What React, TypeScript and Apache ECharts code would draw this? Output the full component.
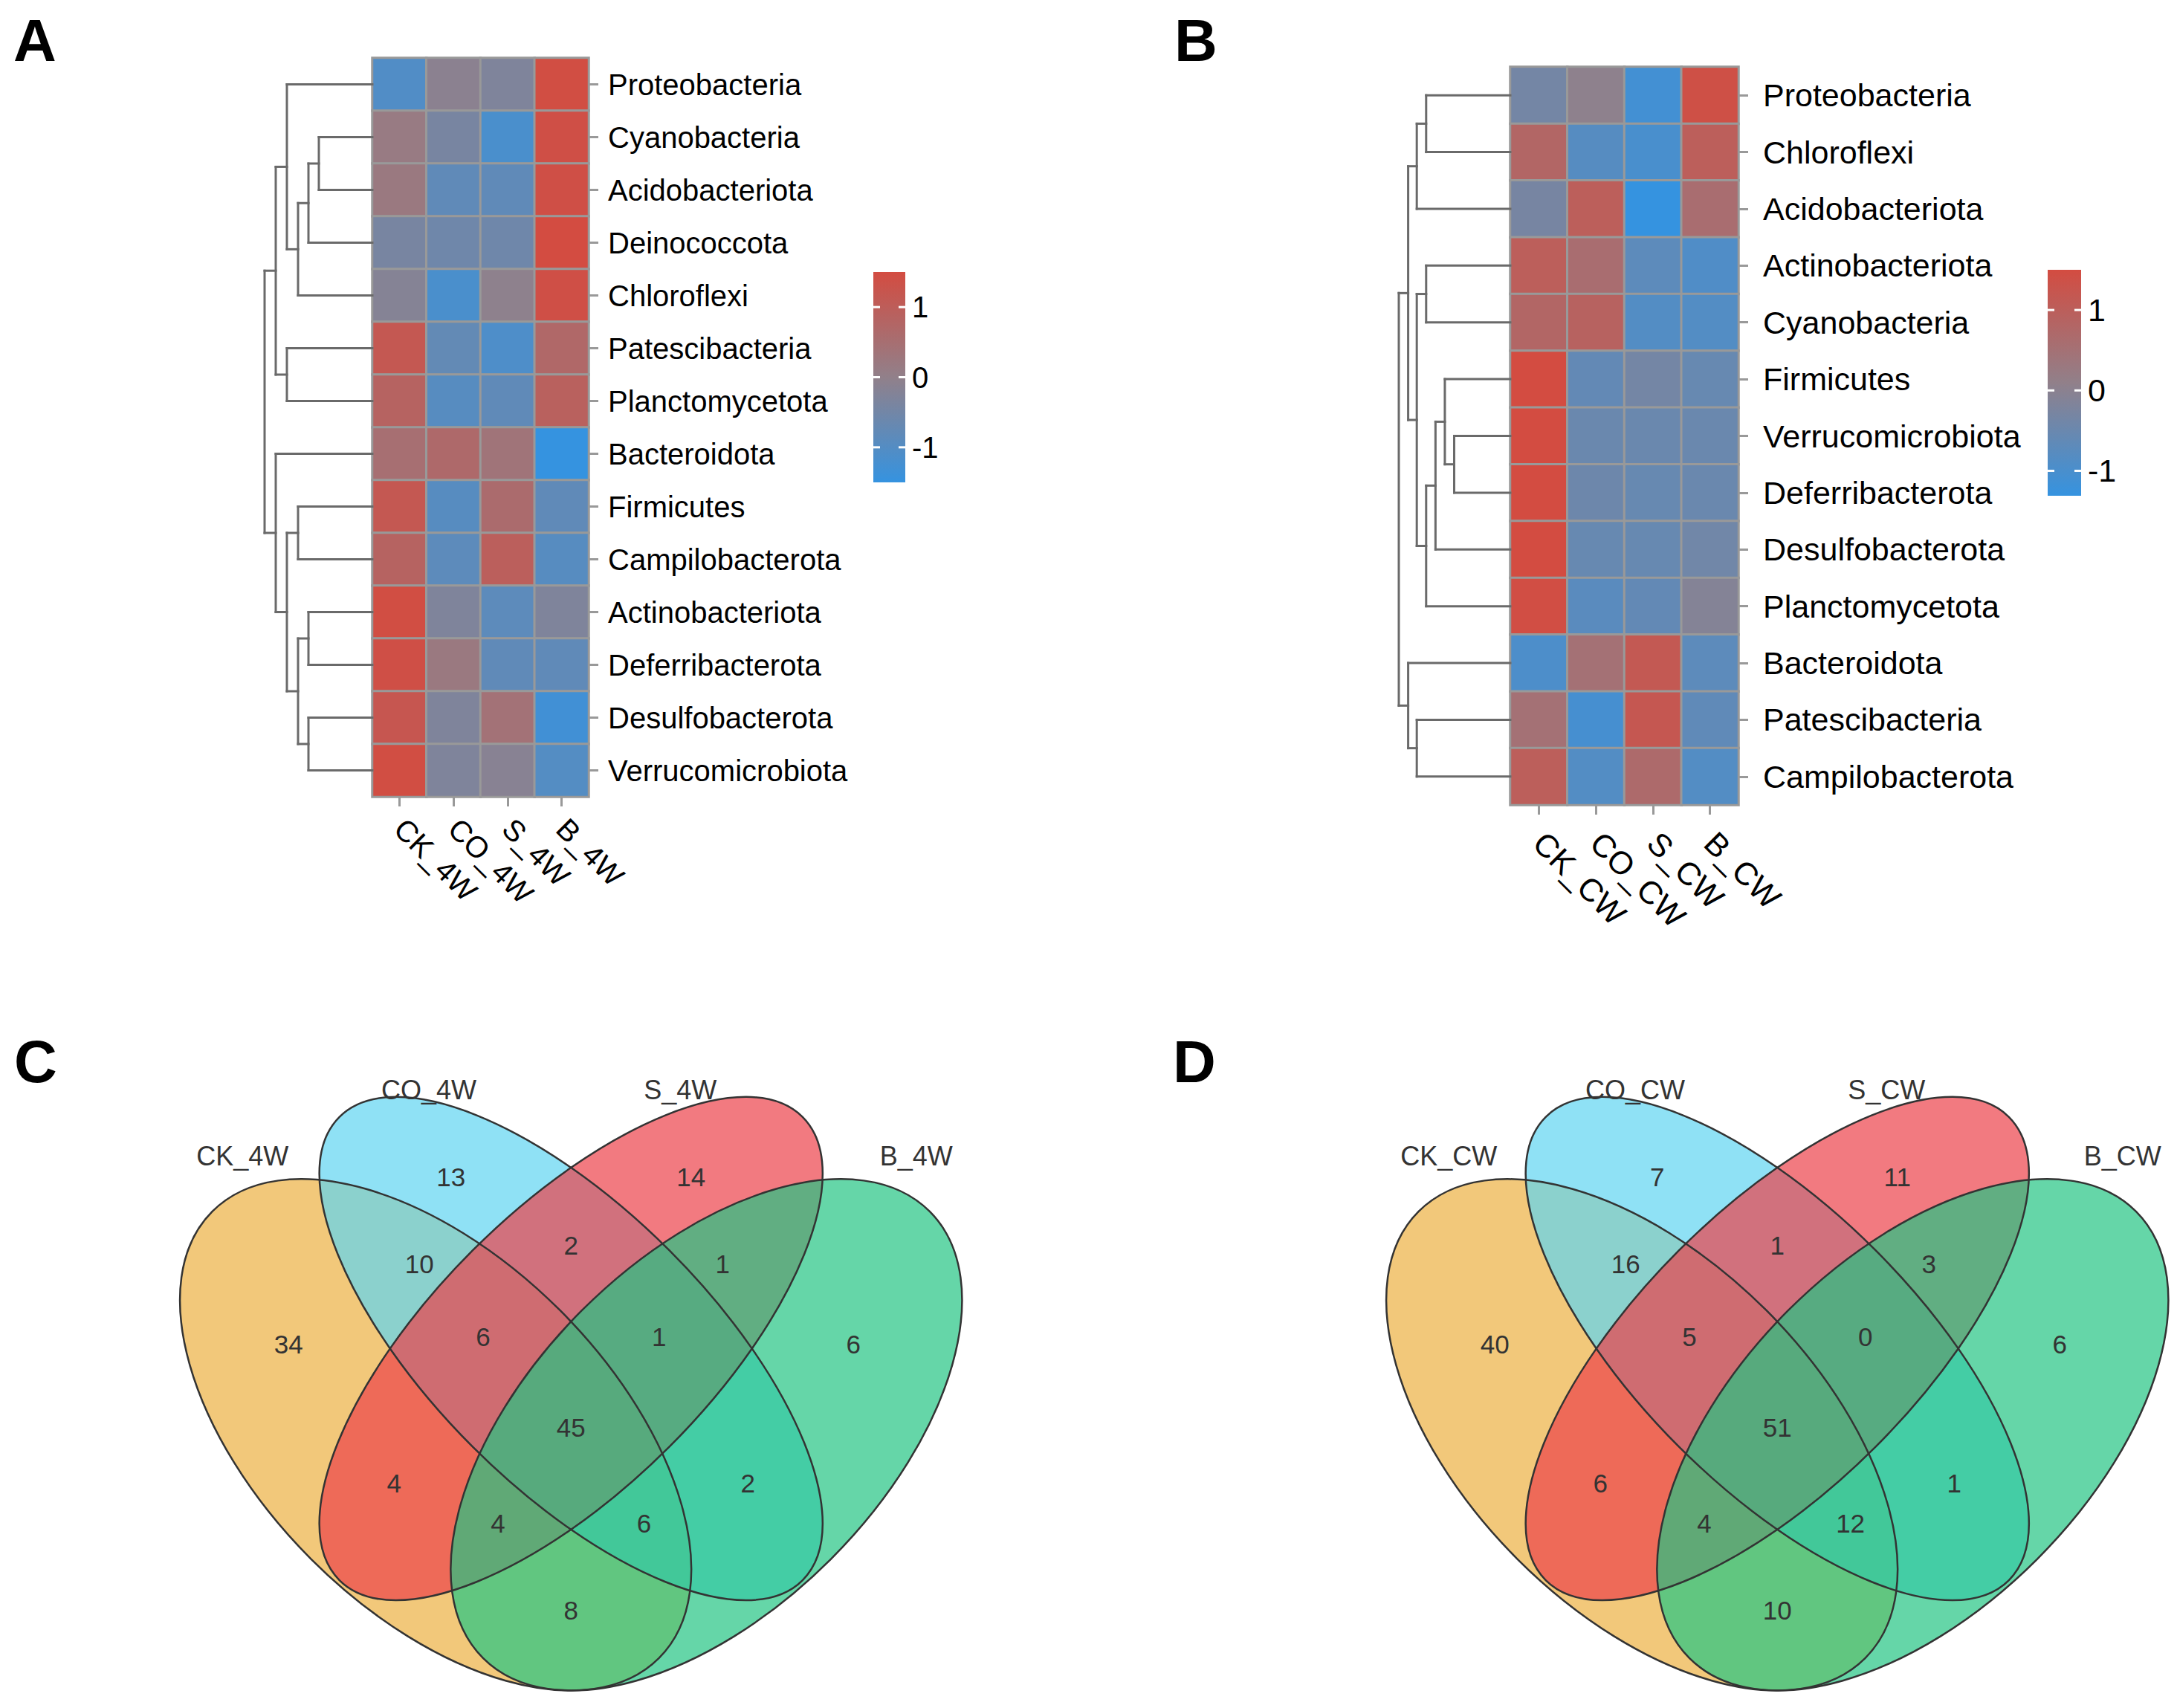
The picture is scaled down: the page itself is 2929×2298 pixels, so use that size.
import React, { useEffect, useRef } from 'react';
import * as echarts from 'echarts';

const FONT = '"Liberation Sans", Arial, Helvetica, sans-serif';

// ---------- Panel A data ----------
const rowsA = ['Proteobacteria', 'Cyanobacteria', 'Acidobacteriota', 'Deinococcota', 'Chloroflexi', 'Patescibacteria', 'Planctomycetota', 'Bacteroidota', 'Firmicutes', 'Campilobacterota', 'Actinobacteriota', 'Deferribacterota', 'Desulfobacterota', 'Verrucomicrobiota'];
const colsA = ['CK_4W', 'CO_4W', 'S_4W', 'B_4W'];
const zA = [
  [-1.05, -0.1, -0.3, 1.45],
  [0.15, -0.4, -1.15, 1.4],
  [0.2, -0.8, -0.8, 1.4],
  [-0.4, -0.55, -0.55, 1.5],
  [-0.2, -1.15, -0.05, 1.4],
  [1.15, -0.75, -1.1, 0.7],
  [0.85, -0.95, -0.8, 0.9],
  [0.5, 0.65, 0.35, -1.5],
  [1.15, -0.95, 0.6, -0.8],
  [0.85, -0.85, 0.95, -0.95],
  [1.45, -0.3, -0.85, -0.3],
  [1.4, 0.2, -0.8, -0.8],
  [1.2, -0.3, 0.4, -1.3],
  [1.45, -0.3, -0.15, -1.0],
];
// hclust-style merges: [childA, childB, height]; negative = leaf (row number), positive = earlier merge
const treeA = [
  [-2, -3, 72], [1, -4, 86], [2, -5, 100], [-1, 3, 115], [-6, -7, 115], [4, 5, 130],
  [-9, -10, 100], [-11, -12, 86], [-13, -14, 86], [8, 9, 100], [7, 10, 115], [-8, 11, 130], [6, 12, 145],
];

// ---------- Panel B data ----------
const rowsB = ['Proteobacteria', 'Chloroflexi', 'Acidobacteriota', 'Actinobacteriota', 'Cyanobacteria', 'Firmicutes', 'Verrucomicrobiota', 'Deferribacterota', 'Desulfobacterota', 'Planctomycetota', 'Bacteroidota', 'Patescibacteria', 'Campilobacterota'];
const colsB = ['CK_CW', 'CO_CW', 'S_CW', 'B_CW'];
const zB = [
  [-0.35, 0.05, -1.1, 1.4],
  [0.8, -0.8, -1.0, 1.0],
  [-0.3, 1.0, -1.31, 0.6],
  [1.0, 0.6, -0.7, -0.9],
  [0.8, 0.9, -0.85, -0.85],
  [1.5, -0.6, -0.35, -0.55],
  [1.5, -0.5, -0.5, -0.5],
  [1.5, -0.45, -0.55, -0.5],
  [1.5, -0.55, -0.55, -0.4],
  [1.45, -0.75, -0.6, -0.1],
  [-0.95, 0.5, 1.15, -0.7],
  [0.5, -1.05, 1.2, -0.65],
  [1.0, -0.85, 0.7, -0.85],
];
const treeB = [
  [-1, -2, 117], [1, -3, 130], [-4, -5, 117], [-7, -8, 78], [-6, 4, 91], [5, -9, 104],
  [6, -10, 117], [3, 7, 130], [2, 8, 142], [-12, -13, 130], [-11, 10, 142], [9, 11, 155],
];

const colorTicks = [-1, 0, 1];
const heatColors = ['#3593e0', '#91808a', '#d34c41'];

// ---------- Venn data ----------
const vennSetsC = ['CK_4W', 'CO_4W', 'S_4W', 'B_4W'];
const vennSetsD = ['CK_CW', 'CO_CW', 'S_CW', 'B_CW'];
const vennRegions = ['CK', 'CO', 'S', 'B', 'CK_CO', 'CO_S', 'S_B', 'CK_CO_S', 'CO_S_B', 'ALL', 'CK_S', 'CO_B', 'CK_S_B', 'CK_CO_B', 'CK_B'];
const vennCountsC = [34, 13, 14, 6, 10, 2, 1, 6, 1, 45, 4, 2, 4, 6, 8];
const vennCountsD = [40, 7, 11, 6, 16, 1, 3, 5, 0, 51, 6, 1, 4, 12, 10];

// ---------- Layout (positions / styles) ----------
const L = {
  heatA: { left: 501, top: 78, width: 291, height: 994 },
  dendA: { left: 356, top: 78, width: 145, height: 994 },
  cbarA: { left: 1175, top: 366, width: 43, height: 283 },
  heatB: { left: 2032, top: 90, width: 307, height: 993 },
  dendB: { left: 1882, top: 90, width: 150, height: 993 },
  cbarB: { left: 2755, top: 363, width: 45, height: 304 },
  vennC: { left: 234, top: 1353, width: 1068.5, height: 910.7 },
  vennD: { left: 1857, top: 1353, width: 1068.5, height: 910.7 },
};
const vennXRange = [0.06, 0.94];
const vennYRange = [0.2, 0.95];
// [cx, cy, semi-major, semi-minor, angle]
const vennEllipses = [
  [0.35, 0.4745, 0.35, 0.195, 135],
  [0.5, 0.57, 0.363, 0.154, 135],
  [0.5, 0.57, 0.363, 0.154, 45],
  [0.65, 0.4745, 0.35, 0.195, 45],
];
const vennFill = ['#ecb041', '#5fd4f1', '#ec414a', '#23c483'];
const vennRegionPos = [
  [0.187, 0.575], [0.367, 0.76], [0.633, 0.76], [0.813, 0.575],
  [0.332, 0.664], [0.5, 0.684], [0.668, 0.664],
  [0.4025, 0.583], [0.5975, 0.583], [0.5, 0.483],
  [0.304, 0.421], [0.696, 0.421], [0.419, 0.3765], [0.581, 0.3765], [0.5, 0.28],
];
const vennSetPos = [[0.136, 0.783], [0.3425, 0.8565], [0.621, 0.8565], [0.8825, 0.783]];

function dendroSegments(merges: number[][]) {
  const pos: number[] = [];
  const hgt: number[] = [];
  const segs: number[][] = [];
  const get = (id: number) => (id < 0 ? { y: -id - 0.5, h: 0 } : { y: pos[id - 1], h: hgt[id - 1] });
  merges.forEach(([a, b, h]) => {
    const A = get(a);
    const B = get(b);
    segs.push([A.h, A.y, h, A.y]);
    segs.push([B.h, B.y, h, B.y]);
    segs.push([h, A.y, h, B.y]);
    pos.push((A.y + B.y) / 2);
    hgt.push(h);
  });
  return segs;
}

function heatData(z: number[][]) {
  const out: number[][] = [];
  z.forEach((row, r) => row.forEach((v, c) => out.push([c, r, v])));
  return out;
}

function buildOption() {
  const minA = Math.min(...zA.flat());
  const maxA = Math.max(...zA.flat());
  const minB = Math.min(...zB.flat());
  const maxB = Math.max(...zB.flat());
  const rootA = Math.max(...treeA.map((m) => m[2]));
  const rootB = Math.max(...treeB.map((m) => m[2]));

  const heatX = (cols: string[], grid: number, fs: number, margin: number) => ({
    gridIndex: grid, type: 'category', data: cols, position: 'bottom',
    axisLine: { show: false },
    axisTick: { show: true, alignWithLabel: true, length: 13, interval: 0, lineStyle: { color: '#999', width: 3 } },
    axisLabel: { interval: 0, rotate: -45, fontSize: fs, color: '#000', margin, fontFamily: FONT },
    splitLine: { show: false },
  });
  const heatY = (rows: string[], grid: number, fs: number, margin: number) => ({
    gridIndex: grid, type: 'category', data: rows, position: 'right', inverse: true,
    axisLine: { show: false },
    axisTick: { show: true, alignWithLabel: true, length: 13, interval: 0, lineStyle: { color: '#999', width: 3 } },
    axisLabel: { interval: 0, fontSize: fs, color: '#000', margin, fontFamily: FONT },
    splitLine: { show: false },
  });
  const hidden = (grid: number, min: number, max: number, inverse = false) => ({
    gridIndex: grid, type: 'value', min, max, inverse, show: false, splitLine: { show: false },
  });

  const dendroSeries = (tree: number[][], axis: number) => ({
    type: 'custom', xAxisIndex: axis, yAxisIndex: axis, silent: true, clip: false,
    data: dendroSegments(tree),
    renderItem: (params: any, api: any) => {
      const a = api.coord([api.value(0), api.value(1)]);
      const b = api.coord([api.value(2), api.value(3)]);
      return { type: 'line', shape: { x1: a[0], y1: a[1], x2: b[0], y2: b[1] }, style: { stroke: '#6a6a6a', lineWidth: 3, lineCap: 'square' } };
    },
  });

  const cbarRect = (axis: number, min: number, max: number) => ({
    type: 'custom', xAxisIndex: axis, yAxisIndex: axis, silent: true, clip: false,
    data: [[0, min]],
    renderItem: (params: any, api: any) => {
      const p1 = api.coord([0, max]);
      const p2 = api.coord([1, min]);
      return {
        type: 'rect',
        shape: { x: p1[0], y: p1[1], width: p2[0] - p1[0], height: p2[1] - p1[1] },
        style: {
          fill: new echarts.graphic.LinearGradient(0, 0, 0, 1, [
            { offset: 0, color: heatColors[2] },
            { offset: 0.5, color: heatColors[1] },
            { offset: 1, color: heatColors[0] },
          ]),
        },
      };
    },
  });
  const cbarTicks = (axis: number, fs: number) => ({
    type: 'custom', xAxisIndex: axis, yAxisIndex: axis, silent: true, clip: false, z: 5,
    data: colorTicks.map((v) => [0, v]),
    renderItem: (params: any, api: any) => {
      const v = api.value(1);
      const l = api.coord([0, v]);
      const r = api.coord([1, v]);
      return {
        type: 'group',
        children: [
          { type: 'line', shape: { x1: l[0], y1: l[1], x2: l[0] + 9, y2: l[1] }, style: { stroke: '#fff', lineWidth: 3 } },
          { type: 'line', shape: { x1: r[0] - 9, y1: r[1], x2: r[0], y2: r[1] }, style: { stroke: '#fff', lineWidth: 3 } },
          { type: 'text', x: r[0] + 9, y: r[1], style: { text: String(v), fontSize: fs, fontFamily: FONT, fill: '#000', align: 'left', verticalAlign: 'middle' } },
        ],
      };
    },
  });

  const ellipseEl = (api: any) => {
    const c = api.coord([api.value(0), api.value(1)]);
    const s = api.size([1, 0])[0];
    return {
      type: 'ellipse', x: c[0], y: c[1], rotation: (api.value(4) * Math.PI) / 180,
      shape: { cx: 0, cy: 0, rx: api.value(2) * s, ry: api.value(3) * s },
    };
  };
  const vennFillSeries = (axis: number) => ({
    type: 'custom', xAxisIndex: axis, yAxisIndex: axis, silent: true, clip: false,
    data: vennEllipses,
    renderItem: (params: any, api: any) => ({ ...ellipseEl(api), style: { fill: vennFill[params.dataIndex], opacity: 0.7 } }),
  });
  const vennLineSeries = (axis: number) => ({
    type: 'custom', xAxisIndex: axis, yAxisIndex: axis, silent: true, clip: false, z: 3,
    data: vennEllipses,
    renderItem: (params: any, api: any) => ({ ...ellipseEl(api), style: { fill: 'none', stroke: '#333', lineWidth: 2.5 } }),
  });
  const vennTextSeries = (axis: number, data: any[][], fs: number) => ({
    type: 'custom', xAxisIndex: axis, yAxisIndex: axis, silent: true, clip: false, z: 4,
    data,
    renderItem: (params: any, api: any) => {
      const c = api.coord([api.value(0), api.value(1)]);
      return {
        type: 'text', x: c[0], y: c[1],
        style: { text: String(data[params.dataIndex][2]), fontSize: fs, fontFamily: FONT, fill: '#333', align: 'center', verticalAlign: 'middle' },
      };
    },
  });

  const countsData = (counts: number[]) => vennRegionPos.map((p, i) => [p[0], p[1], counts[i]]);
  const setData = (sets: string[]) => vennSetPos.map((p, i) => [p[0], p[1], sets[i]]);
  const letter = (t: string, x: number, y: number) => ({
    type: 'text', x, y, style: { text: t, fontSize: 80, fontWeight: 'bold', fontFamily: FONT, fill: '#000', verticalAlign: 'middle' },
  });

  return {
    animation: false,
    backgroundColor: '#ffffff',
    textStyle: { fontFamily: FONT },
    grid: [L.heatA, L.dendA, L.cbarA, L.heatB, L.dendB, L.cbarB, L.vennC, L.vennD].map((g) => ({ ...g, containLabel: false })),
    xAxis: [
      heatX(colsA, 0, 40, 36),
      hidden(1, 0, rootA, true),
      hidden(2, 0, 1),
      heatX(colsB, 3, 43, 44),
      hidden(4, 0, rootB, true),
      hidden(5, 0, 1),
      hidden(6, vennXRange[0], vennXRange[1]),
      hidden(7, vennXRange[0], vennXRange[1]),
    ],
    yAxis: [
      heatY(rowsA, 0, 40, 26),
      hidden(1, 0, rowsA.length, true),
      hidden(2, minA, maxA),
      heatY(rowsB, 3, 43, 33),
      hidden(4, 0, rowsB.length, true),
      hidden(5, minB, maxB),
      hidden(6, vennYRange[0], vennYRange[1]),
      hidden(7, vennYRange[0], vennYRange[1]),
    ],
    visualMap: [
      { type: 'continuous', show: false, seriesIndex: 0, dimension: 2, min: minA, max: maxA, inRange: { color: heatColors } },
      { type: 'continuous', show: false, seriesIndex: 1, dimension: 2, min: minB, max: maxB, inRange: { color: heatColors } },
    ],
    graphic: [letter('A', 18, 54), letter('B', 1580, 54), letter('C', 19, 1428), letter('D', 1578, 1428)],
    series: [
      { type: 'heatmap', xAxisIndex: 0, yAxisIndex: 0, data: heatData(zA), itemStyle: { borderColor: '#999', borderWidth: 3 }, emphasis: { disabled: true }, silent: true },
      { type: 'heatmap', xAxisIndex: 3, yAxisIndex: 3, data: heatData(zB), itemStyle: { borderColor: '#999', borderWidth: 3 }, emphasis: { disabled: true }, silent: true },
      dendroSeries(treeA, 1),
      dendroSeries(treeB, 4),
      cbarRect(2, minA, maxA),
      cbarTicks(2, 40),
      cbarRect(5, minB, maxB),
      cbarTicks(5, 43),
      vennFillSeries(6),
      vennLineSeries(6),
      vennTextSeries(6, countsData(vennCountsC), 35),
      vennTextSeries(6, setData(vennSetsC), 36),
      vennFillSeries(7),
      vennLineSeries(7),
      vennTextSeries(7, countsData(vennCountsD), 35),
      vennTextSeries(7, setData(vennSetsD), 36),
    ],
  };
}

export default function App() {
  const ref = useRef<HTMLDivElement>(null);
  useEffect(() => {
    if (!ref.current) return;
    const chart = echarts.init(ref.current, null, { renderer: 'svg' });
    chart.setOption(buildOption() as any);
    return () => chart.dispose();
  }, []);
  return (
    <div
      ref={ref}
      style={{ position: 'fixed', left: 0, top: 0, width: 2929, height: 2298, background: '#fff' }}
    />
  );
}
